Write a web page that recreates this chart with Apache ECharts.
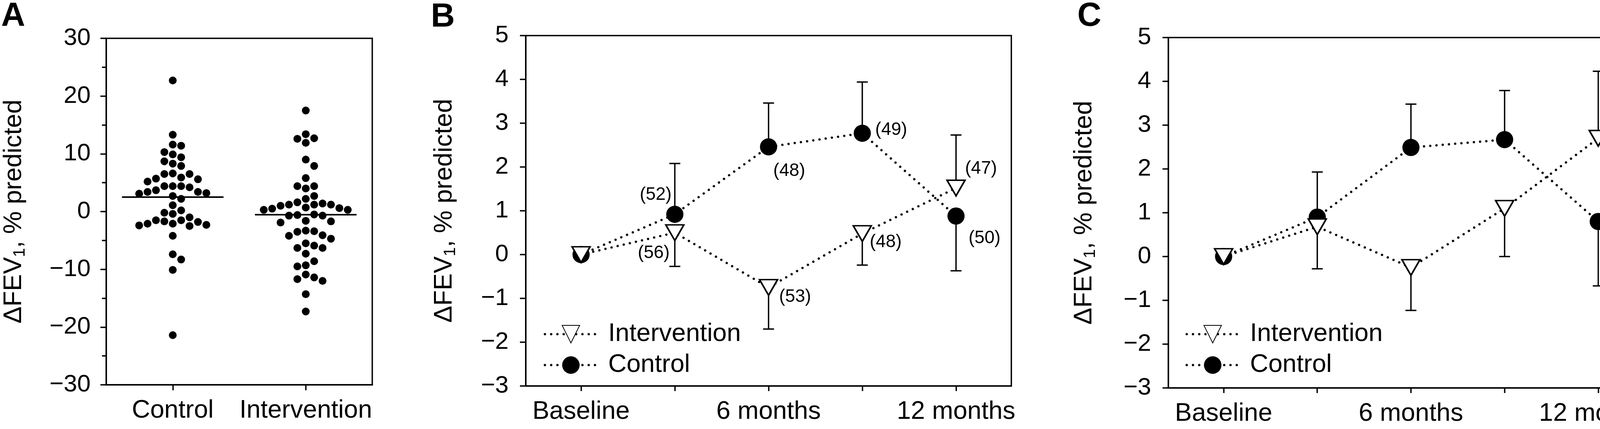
<!DOCTYPE html>
<html>
<head>
<meta charset="utf-8">
<script src="https://cdn.jsdelivr.net/npm/echarts@6/dist/echarts.min.js"></script>
<style>
html,body{margin:0;padding:0;background:#fff;overflow:hidden;}
#c{width:4246px;height:1097px;}
</style>
</head>
<body>
<div id="c"></div>
<script>
// ================= DATA =================
// Panel A: individual changes in FEV1 (% predicted)
const groupsA = ['Control', 'Intervention'];
const controlA = [22.7, 13.3, 11.6, 11.4, 10.3, 9.9, 9.4, 8.7, 8.3, 7.9, 6.5, 6.6, 6.5, 5.9, 5.6, 5.7, 5.2,
  4.4, 4.4, 4.2, 4.4, 3.7, 3.4, 3.4, 3.2, 3.1, 2.7, 2.2, 1.1, 0.2, -0.4, -0.2, -1.0, -1.5, -1.5, -1.8,
  -1.7, -2.5, -2.4, -2.1, -2.3, -2.1, -4.2, -7.4, -8.3, -10.1, -21.4];
const interventionA = [17.5, 13.4, 12.6, 12.7, 11.9, 9.0, 7.9, 5.8, 4.4, 4.4, 4.0, 2.7, 2.2, 1.6, 1.4,
  1.2, 1.2, 1.0, 1.2, 0.7, 0.6, 0.3, 0.3, 0.5, -0.7, -0.6, -0.7, -0.5, -1.7, -1.9, -1.6, -3.4, -3.3,
  -3.5, -4.1, -4.2, -4.7, -5.5, -5.9, -6.3, -6.3, -7.3, -8.6, -9.5, -9.3, -10.9, -12.0, -11.7, -11.4,
  -14.3, -17.3];
const centralLineA = [2.5, -0.55];
const yTicksA = {min: -30, max: 30, step: 10};

// Panels B and C: mean change over time
const timeLabels = ['Baseline', '', '6 months', '', '12 months'];
const yTicksBC = {min: -3, max: 5, step: 1};

const interventionB = [0, 0.5, -0.75, 0.48, 1.52];
const controlB = [0, 0.92, 2.46, 2.77, 0.88];
const interventionBErrEnd = [null, -0.27, -1.70, -0.24, 2.73];
const controlBErrEnd = [null, 2.08, 3.46, 3.94, -0.37];
const interventionBN = [null, 56, 53, 48, 47];
const controlBN = [null, 52, 48, 49, 50];

const interventionC = [0, 0.68, -0.25, 1.1, 2.7];
const controlC = [0, 0.9, 2.49, 2.67, 0.8];
const interventionCErrEnd = [null, -0.28, -1.23, 0.0, 4.23];
const controlCErrEnd = [null, 1.93, 3.48, 3.79, -0.67];

const seriesNames = ['Intervention', 'Control'];
const panelLetters = ['A', 'B', 'C'];

// ================= LAYOUT / STYLE =================
const FONT = '"Liberation Sans", Arial, Helvetica, sans-serif';
const BLACK = '#000';
const LW = 3.5;
const grids = [
  {left: 272, top: 98, width: 681, height: 886},
  {left: 1346, top: 91, width: 1243, height: 896},
  {left: 2991, top: 96, width: 1242, height: 896}
];
const xRangeA = [-0.5, 1.5];
const xRangeBC = [-0.59, 4.59];
const dotPx = 20;         // panel A dot diameter
const colStepPx = 21.5;   // panel A swarm column step
const swarmGapUnits = 1.45; // min vertical distance (value units) between dots sharing a column
const nLabelOffsetB = {
  Control: [null, [-49, -50], [53, 62], [74, -8], [73, 57]],
  Intervention: [null, [-54, 52], [68, 24], [60, 22], [64, -49]]
};
const minus = v => String(v).replace('-', '\u2212');

// beeswarm layout for panel A (horizontal offsets computed from the values)
function swarm(values, center) {
  const g = grids[0];
  const pxPerX = g.width / (xRangeA[1] - xRangeA[0]);
  const stepX = colStepPx / pxPerX;
  const sorted = values.slice().sort((a, b) => b - a);
  const placed = [];
  return sorted.map(v => {
    for (let k = 0; k < 40; k++) {
      const slot = k === 0 ? 0 : (k % 2 ? (k + 1) / 2 : -k / 2);
      if (!placed.some(p => p.slot === slot && Math.abs(p.v - v) < swarmGapUnits)) {
        placed.push({v, slot});
        return [center + slot * stepX, v];
      }
    }
    return [center, v];
  });
}

function xAxisA() {
  return {
    gridIndex: 0, type: 'value', min: xRangeA[0], max: xRangeA[1],
    axisLine: {show: true, onZero: false, lineStyle: {color: BLACK, width: LW}},
    axisTick: {show: true, customValues: [0, 1], length: 14, lineStyle: {color: BLACK, width: LW}},
    axisLabel: {customValues: [0, 1], formatter: v => groupsA[Math.round(v)], fontSize: 65, margin: 34,
      color: BLACK, fontFamily: FONT},
    splitLine: {show: false}
  };
}
function xAxisT(gi) {
  return {
    gridIndex: gi, type: 'value', min: xRangeBC[0], max: xRangeBC[1],
    axisLine: {show: true, onZero: false, lineStyle: {color: BLACK, width: LW}},
    axisTick: {show: true, customValues: [0, 1, 2, 3, 4], length: 13, lineStyle: {color: BLACK, width: LW}},
    axisLabel: {customValues: [0, 2, 4], formatter: v => timeLabels[Math.round(v)], fontSize: 65, margin: 34,
      color: BLACK, fontFamily: FONT},
    splitLine: {show: false}
  };
}
function yAxis(gi, t, nameGap, labelMargin, minor) {
  return {
    gridIndex: gi, type: 'value', min: t.min, max: t.max, interval: t.step,
    axisLine: {show: true, onZero: false, lineStyle: {color: BLACK, width: LW}},
    axisTick: {show: true, length: 15, lineStyle: {color: BLACK, width: LW}},
    minorTick: {show: !!minor, splitNumber: 2, length: 11, lineStyle: {color: BLACK, width: LW}},
    axisLabel: {formatter: minus, fontSize: 62, margin: labelMargin, color: BLACK, fontFamily: FONT},
    splitLine: {show: false}, minorSplitLine: {show: false},
    name: '{a|\u0394FEV}{s|1}{a|, % predicted}',
    nameLocation: 'middle', nameRotate: 90, nameGap: nameGap,
    nameTextStyle: {
      color: BLACK, fontFamily: FONT, fontSize: 65,
      rich: {
        a: {fontSize: 65, fontFamily: FONT, color: BLACK, lineHeight: 72},
        s: {fontSize: 42, fontFamily: FONT, color: BLACK, lineHeight: 42, verticalAlign: 'bottom'}
      }
    }
  };
}

const dotted = {color: BLACK, width: 6, type: [0.01, 16], cap: 'round'};

function timeSeries(gi, name, vals, ns) {
  const isInt = name === 'Intervention';
  return {
    type: 'line', name: name, xAxisIndex: gi, yAxisIndex: gi,
    z: isInt ? 5 : 4,
    symbol: isInt ? 'triangle' : 'circle',
    symbolSize: isInt ? [46, 40] : 44,
    symbolRotate: isInt ? 180 : 0,
    itemStyle: isInt ? {color: '#fff', borderColor: BLACK, borderWidth: 4, opacity: 1}
                     : {color: BLACK, borderWidth: 0, opacity: 1},
    lineStyle: dotted,
    label: {show: false, position: 'inside', fontSize: 46, color: BLACK, fontFamily: FONT},
    emphasis: {disabled: true},
    animation: false,
    data: vals.map((v, i) => {
      const item = {value: [i, v]};
      if (ns && ns[i] != null) {
        item.label = {show: true, formatter: '(' + ns[i] + ')', offset: nLabelOffsetB[name][i]};
      }
      return item;
    })
  };
}

function errSeries(gi, vals, ends) {
  return {
    type: 'custom', xAxisIndex: gi, yAxisIndex: gi, z: 2, silent: true, animation: false,
    data: vals.map((m, i) => [i, m, ends[i]]).filter(d => d[2] != null),
    renderItem: (params, api) => {
      const p0 = api.coord([api.value(0), api.value(1)]);
      const p1 = api.coord([api.value(0), api.value(2)]);
      return {type: 'group', children: [
        {type: 'line', shape: {x1: p0[0], y1: p0[1], x2: p1[0], y2: p1[1]}, style: {stroke: BLACK, lineWidth: LW}},
        {type: 'line', shape: {x1: p1[0] - 14, y1: p1[1], x2: p1[0] + 14, y2: p1[1]}, style: {stroke: BLACK, lineWidth: LW}}
      ]};
    }
  };
}

function legendAt(left) {
  return {
    data: seriesNames, left: left, top: 822, orient: 'vertical',
    itemWidth: 133, itemHeight: 56, itemGap: 14, selectedMode: false, padding: 0,
    textStyle: {fontSize: 65, color: BLACK, fontFamily: FONT, padding: [0, 0, 0, 24]},
    lineStyle: {width: 6}
  };
}

const titleStyle = {fontSize: 85, fontWeight: 'bold', fontFamily: FONT, color: BLACK};
const dotStyle = {color: BLACK, opacity: 1};

const option = {
  animation: false,
  backgroundColor: '#fff',
  title: [
    {text: panelLetters[0], left: 3, top: 0, padding: 0, textStyle: titleStyle},
    {text: panelLetters[1], left: 1103, top: 2, padding: 0, textStyle: titleStyle},
    {text: panelLetters[2], left: 2758, top: 0, padding: 0, textStyle: titleStyle}
  ],
  grid: grids.map(g => Object.assign({show: true, borderColor: BLACK, borderWidth: LW,
    backgroundColor: 'transparent', containLabel: false, outerBoundsMode: 'none'}, g)),
  legend: [legendAt(1392), legendAt(3035)],
  xAxis: [xAxisA(), xAxisT(1), xAxisT(2)],
  yAxis: [yAxis(0, yTicksA, 200, 40, true), yAxis(1, yTicksBC, 172, 44, false), yAxis(2, yTicksBC, 179, 44, false)],
  series: [
    {type: 'scatter', xAxisIndex: 0, yAxisIndex: 0, symbol: 'circle', symbolSize: dotPx,
      itemStyle: dotStyle, data: swarm(controlA, 0), silent: true},
    {type: 'scatter', xAxisIndex: 0, yAxisIndex: 0, symbol: 'circle', symbolSize: dotPx,
      itemStyle: dotStyle, data: swarm(interventionA, 1), silent: true},
    {type: 'custom', xAxisIndex: 0, yAxisIndex: 0, z: 3, silent: true,
      data: centralLineA.map((m, i) => [i, m]),
      renderItem: (params, api) => {
        const p = api.coord([api.value(0), api.value(1)]);
        return {type: 'line', shape: {x1: p[0] - 130, y1: p[1], x2: p[0] + 130, y2: p[1]},
          style: {stroke: BLACK, lineWidth: 4}};
      }},
    errSeries(1, controlB, controlBErrEnd),
    errSeries(1, interventionB, interventionBErrEnd),
    timeSeries(1, 'Control', controlB, controlBN),
    timeSeries(1, 'Intervention', interventionB, interventionBN),
    errSeries(2, controlC, controlCErrEnd),
    errSeries(2, interventionC, interventionCErrEnd),
    timeSeries(2, 'Control', controlC, null),
    timeSeries(2, 'Intervention', interventionC, null)
  ]
};

const chart = echarts.init(document.getElementById('c'));
chart.setOption(option);
</script>
</body>
</html>
